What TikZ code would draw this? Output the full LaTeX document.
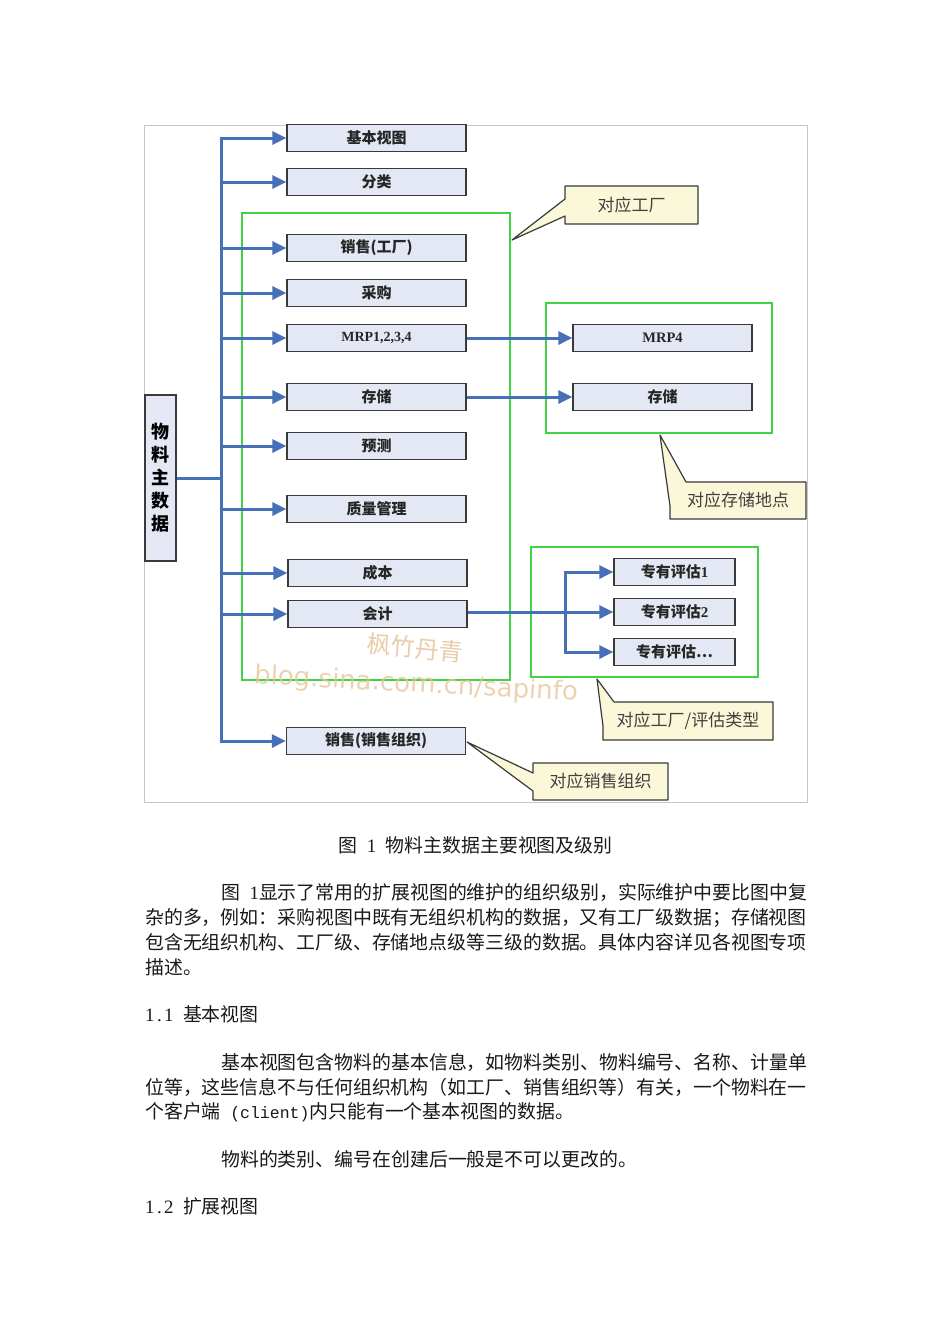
\documentclass[tikz,border=0pt]{standalone}
\usepackage{fontspec}
\usetikzlibrary{arrows.meta,calc}
\newfontfamily\cjk{Noto Sans CJK SC}
\newfontfamily\monof{Liberation Mono}
\newfontfamily\serifb{Liberation Serif}
\newfontfamily\wmfont{DejaVu Sans}
\definecolor{boxfill}{HTML}{E4E8F4}
\definecolor{boxline}{HTML}{3A3A3A}
\definecolor{arrowblue}{HTML}{4670B8}
\definecolor{grn}{HTML}{44D044}
\definecolor{callfill}{HTML}{FAF8D8}
\definecolor{wm}{HTML}{E6C49A}
\newcommand{\hw}[1]{\makebox[9.45pt]{\serifb\fontsize{18.9}{25}\selectfont #1}}
\newcommand{\lat}[1]{{\monof\fontsize{16.5}{25}\selectfont #1}}
\tikzset{
 vbox/.style={draw=boxline, line width=1.3pt, fill=boxfill, minimum width=179pt, minimum height=27pt, inner sep=0pt, font=\cjk\bfseries\fontsize{15}{17}\selectfont, text=black!85},
 ebox/.style={vbox, minimum width=121pt},
 conn/.style={draw=arrowblue, line width=3pt},
 arr/.style={conn, -{Triangle[length=14pt,width=13pt]}},
 grnbox/.style={draw=grn, line width=2pt},
 callout/.style={draw=boxline, line width=1.2pt, fill=callfill, line join=round},
 calltext/.style={font=\cjk\fontsize{17}{19}\selectfont, text=black!75, inner sep=0pt},
 body/.style={anchor=base west, inner sep=0pt, font=\cjk\fontsize{18.9}{25}\selectfont, text=black!90}
}
\begin{document}
\begin{tikzpicture}[x=1pt,y=-1pt]
\useasboundingbox (0,0) rectangle (950,1344);
\fill[white] (0,0) rectangle (950,1344);
% outer frame
\draw[black!22, line width=0.8pt] (144,125) rectangle (807,802);

% green groups
\draw[grnbox] (242,213) rectangle (510,680);
\draw[grnbox] (546,303) rectangle (772,433);
\draw[grnbox] (531,547) rectangle (758,677);

% main node
\node[draw=boxline, line width=1.3pt, fill=boxfill, minimum width=31pt, minimum height=166pt, inner sep=0pt, align=center, font=\cjk\bfseries\fontsize{18}{23}\selectfont] (mm) at (160.5,478) {物\\料\\主\\数\\据};

% view boxes
\node[vbox] (b1) at (376.5,138) {基本视图};
\node[vbox] (b2) at (376.5,182) {分类};
\node[vbox] (b3) at (376.5,248) {销售(工厂)};
\node[vbox] (b4) at (376.5,293) {采购};
\node[vbox, font=\serifb\bfseries\fontsize{14}{16}\selectfont] (b5) at (376.5,338) {MRP1,2,3,4};
\node[vbox] (b6) at (376.5,397) {存储};
\node[vbox] (b7) at (376.5,446) {预测};
\node[vbox] (b8) at (376.5,509) {质量管理};
\node[vbox] (b9) at (377.5,573) {成本};
\node[vbox] (b10) at (377.5,614) {会计};
\node[vbox] (b11) at (376,741) {销售(销售组织)};

\node[vbox, font=\serifb\bfseries\fontsize{14.5}{16}\selectfont] (m4) at (662.5,338) {MRP4};
\node[vbox] (s2) at (662.5,397) {存储};

\node[ebox] (e1) at (674.5,572) {专有评估\serifb 1};
\node[ebox] (e2) at (674.5,612) {专有评估\serifb 2};
\node[ebox] (e3) at (674.5,652) {专有评估…};

% trunk
\coordinate (t0) at (221,138);
\coordinate (t1) at (221,741);
\draw[conn, line cap=rect] (t0) -- (t1);
\draw[conn] (mm.east) -- (mm.east -| t0);
\foreach \b in {b1,b2,b3,b4,b5,b6,b7,b8,b9,b10,b11}
  \draw[arr] (\b.west -| t0) -- (\b.west);

% secondary arrows
\draw[arr] (b5.east) -- (m4.west);
\draw[arr] (b6.east) -- (s2.west);
\draw[arr] (b10.east |- e2.west) -- (e2.west);
\coordinate (ev) at (565,612);
\draw[arr] (ev) |- (e1.west);
\draw[arr] (ev) |- (e3.west);

% callouts
\draw[callout] (565,186) -- (698,186) -- (698,224) -- (565,224) -- (565,216) -- (512,240) -- (565,199) -- cycle;
\node[calltext] (c1) at (631.5,205) {对应工厂};

\draw[callout] (686,482) -- (806,482) -- (806,519) -- (670,519) -- (670,506) -- (660,435) -- cycle;
\node[calltext] (c2) at (738,500.5) {对应存储地点};

\draw[callout] (614,702) -- (773,702) -- (773,740) -- (603,740) -- (603,726) -- (597,679) -- cycle;
\node[calltext] (c3) at (688,721) {对应工厂/评估类型};

\draw[callout] (533,763) -- (668,763) -- (668,800) -- (533,800) -- (533,791) -- (467,742) -- (533,773) -- cycle;
\node[calltext] (c4) at (600.5,781.5) {对应销售组织};

% watermark
\node[text=wm, opacity=0.85, rotate=-5, font=\cjk\fontsize{24}{26}\selectfont, inner sep=0pt] (wm1) at (415,648) {枫竹丹青};
\node[text=wm, opacity=0.75, rotate=-3, font=\wmfont\fontsize{26}{28}\selectfont, inner sep=0pt] (wm2) at (416,685) {blog.sina.com.cn/sapinfo};

% caption and body text
\node[anchor=base, inner sep=0pt, font=\cjk\fontsize{18.9}{25}\selectfont, text=black!90] (cap) at (475.5,852) {图\hw{}\hw{1}\hw{}物料主数据主要视图及级别};

\node[body] (p1) at (221,899) {图\hw{}\hw{1}显示了常用的扩展视图的维护的组织级别，实际维护中要比图中复};
\node[body] (p2) at (145,924) {杂的多，例如：采购视图中既有无组织机构的数据，又有工厂级数据；存储视图};
\node[body] (p3) at (145,949) {包含无组织机构、工厂级、存储地点级等三级的数据。具体内容详见各视图专项};
\node[body] (p4) at (145,974) {描述。};

\node[body] (h1) at (145,1021) {\hw{1}\hw{.}\hw{1}\hw{}基本视图};

\node[body] (q1) at (221,1069) {基本视图包含物料的基本信息，如物料类别、物料编号、名称、计量单};
\node[body] (q2) at (145,1094) {位等，这些信息不与任何组织机构（如工厂、销售组织等）有关，一个物料在一};
\node[body] (q3) at (145,1118) {个客户端\hw{}\lat{(client)}内只能有一个基本视图的数据。};

\node[body] (r1) at (221,1166) {物料的类别、编号在创建后一般是不可以更改的。};

\node[body] (h2) at (145,1213) {\hw{1}\hw{.}\hw{2}\hw{}扩展视图};
\end{tikzpicture}
\end{document}
